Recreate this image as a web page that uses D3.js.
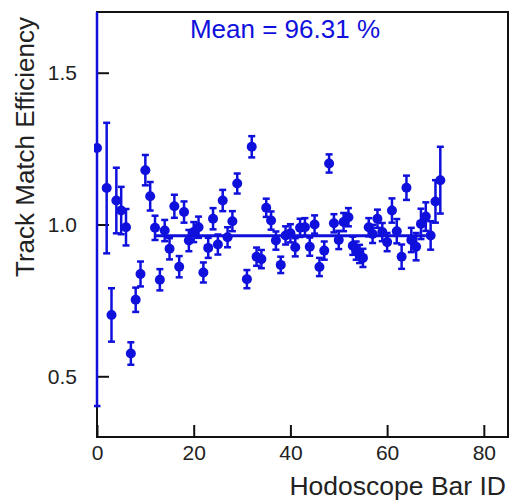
<!DOCTYPE html>
<html><head><meta charset="utf-8">
<script src="https://cdn.jsdelivr.net/npm/d3@7"></script>
<style>html,body{margin:0;padding:0;background:#fff;}svg{display:block;}</style>
</head><body>
<svg id="chart" width="510" height="501"></svg>
<script>
// Data
const barIds = [0,2,3,4,5,6,7,8,9,10,11,12,13,14,15,16,17,18,19,20,21,22,23,24,25,26,27,28,29,
  31,32,33,34,35,36,37,38,39,40,41,42,43,44,45,46,47,48,49,50,51,52,52.9,53.6,54.3,55.0,56.2,57,58,59,60,
  61,62,63,64,65,66,67,68,69,70,71];
const efficiency = [1.252,1.12,0.702,1.079,1.046,0.991,0.575,0.752,0.837,1.179,1.093,0.989,0.818,0.980,0.920,1.060,0.861,1.041,0.947,0.975,0.991,0.842,0.923,1.019,0.934,1.079,0.958,1.011,1.135,
  0.820,1.256,0.894,0.886,1.055,1.013,0.947,0.867,0.964,0.971,0.925,0.989,0.991,0.927,1.000,0.860,0.914,1.201,1.004,0.949,1.008,1.024,0.930,0.914,0.903,0.890,0.991,0.969,1.019,0.975,0.942,
  1.046,0.978,0.894,1.121,0.949,0.927,1.002,1.026,0.964,1.076,1.146];
const errors = [0.85,0.215,0.088,0.108,0.078,0.06,0.037,0.04,0.041,0.05,0.047,0.04,0.035,0.035,0.035,0.038,0.035,0.035,0.035,0.033,0.035,0.033,0.033,0.035,0.033,0.035,0.033,0.033,0.033,
  0.03,0.035,0.03,0.03,0.03,0.03,0.03,0.027,0.03,0.03,0.03,0.03,0.03,0.03,0.03,0.03,0.03,0.03,0.03,0.03,0.03,0.03,0.03,0.03,0.03,0.03,0.03,0.03,0.03,0.03,0.03,
  0.04,0.04,0.04,0.04,0.04,0.045,0.05,0.047,0.047,0.07,0.11];
const fitMean = 0.9631;
const fitRange = [12, 68];
const xTicks = [0,20,40,60,80];
const yTicks = [0.5,1.0,1.5];
const xDomain = [0,85];
const yDomain = [0.3,1.7];
const meanLabel = "Mean = 96.31 %";
const xTitle = "Hodoscope Bar ID";
const yTitle = "Track Match Efficiency";

const blue = "#1010dd";
const font = "'Liberation Sans', Arial, Helvetica, sans-serif";
const L = 97, R = 508, T = 12, B = 437;
const svg = d3.select("#chart");
const x = d3.scaleLinear().domain(xDomain).range([L, R]);
const y = d3.scaleLinear().domain(yDomain).range([B, T]);

svg.append("defs").append("clipPath").attr("id","plotclip")
  .append("rect").attr("x",L-3).attr("y",T).attr("width",R-L+3).attr("height",B-T);

// frame
svg.append("rect").attr("x",L).attr("y",T).attr("width",R-L).attr("height",B-T)
  .attr("fill","none").attr("stroke","#111").attr("stroke-width",2);

// axes with inward ticks
const xAxis = d3.axisBottom(x).tickValues(xTicks).tickFormat(d3.format("d")).tickSizeInner(-12).tickSizeOuter(0).tickPadding(8);
const gx = svg.append("g").attr("transform",`translate(0,${B})`).call(xAxis);
gx.select(".domain").remove();
gx.selectAll(".tick line").attr("stroke","#111").attr("stroke-width",2);
gx.selectAll(".tick text").attr("font-family",font).attr("font-size",21).attr("fill","#222");

const yAxis = d3.axisLeft(y).tickValues(yTicks).tickFormat(d3.format(".1f")).tickSizeInner(-12).tickSizeOuter(0).tickPadding(20);
const gy = svg.append("g").attr("transform",`translate(${L},0)`).call(yAxis);
gy.select(".domain").remove();
gy.selectAll(".tick line").attr("stroke","#111").attr("stroke-width",2);
gy.selectAll(".tick text").attr("font-family",font).attr("font-size",21).attr("fill","#222");

const data = barIds.map((id,i)=>({id, v: efficiency[i], e: errors[i]}));
const g = svg.append("g").attr("clip-path","url(#plotclip)");

// fit line
g.append("line").attr("x1",x(fitRange[0])).attr("x2",x(fitRange[1]))
  .attr("y1",y(fitMean)).attr("y2",y(fitMean)).attr("stroke",blue).attr("stroke-width",3);

// error bars
const sw = 2.5;
g.selectAll("line.err").data(data).join("line").attr("class","err")
  .attr("x1",d=>x(d.id)).attr("x2",d=>x(d.id))
  .attr("y1",d=>y(d.v+d.e)).attr("y2",d=>y(d.v-d.e))
  .attr("stroke",blue).attr("stroke-width",sw);
const cap = 3.5;
g.selectAll("line.capt").data(data).join("line").attr("class","capt")
  .attr("x1",d=>x(d.id)-cap).attr("x2",d=>x(d.id)+cap)
  .attr("y1",d=>y(d.v+d.e)).attr("y2",d=>y(d.v+d.e))
  .attr("stroke",blue).attr("stroke-width",sw);
g.selectAll("line.capb").data(data).join("line").attr("class","capb")
  .attr("x1",d=>x(d.id)-cap).attr("x2",d=>x(d.id)+cap)
  .attr("y1",d=>y(d.v-d.e)).attr("y2",d=>y(d.v-d.e))
  .attr("stroke",blue).attr("stroke-width",sw);
// markers
g.selectAll("circle").data(data).join("circle")
  .attr("cx",d=>x(d.id)).attr("cy",d=>y(d.v)).attr("r",5).attr("fill",blue);

// texts
svg.append("text").attr("x",285).attr("y",38).attr("text-anchor","middle")
  .attr("font-family",font).attr("font-size",26).attr("fill",blue).text(meanLabel);
svg.append("text").attr("x",506).attr("y",495).attr("text-anchor","end")
  .attr("font-family",font).attr("font-size",26.5).attr("fill","#222").text(xTitle);
svg.append("text").attr("transform","translate(34,147) rotate(-90)").attr("text-anchor","middle")
  .attr("font-family",font).attr("font-size",26).attr("fill","#222").text(yTitle);
</script>
</body></html>
